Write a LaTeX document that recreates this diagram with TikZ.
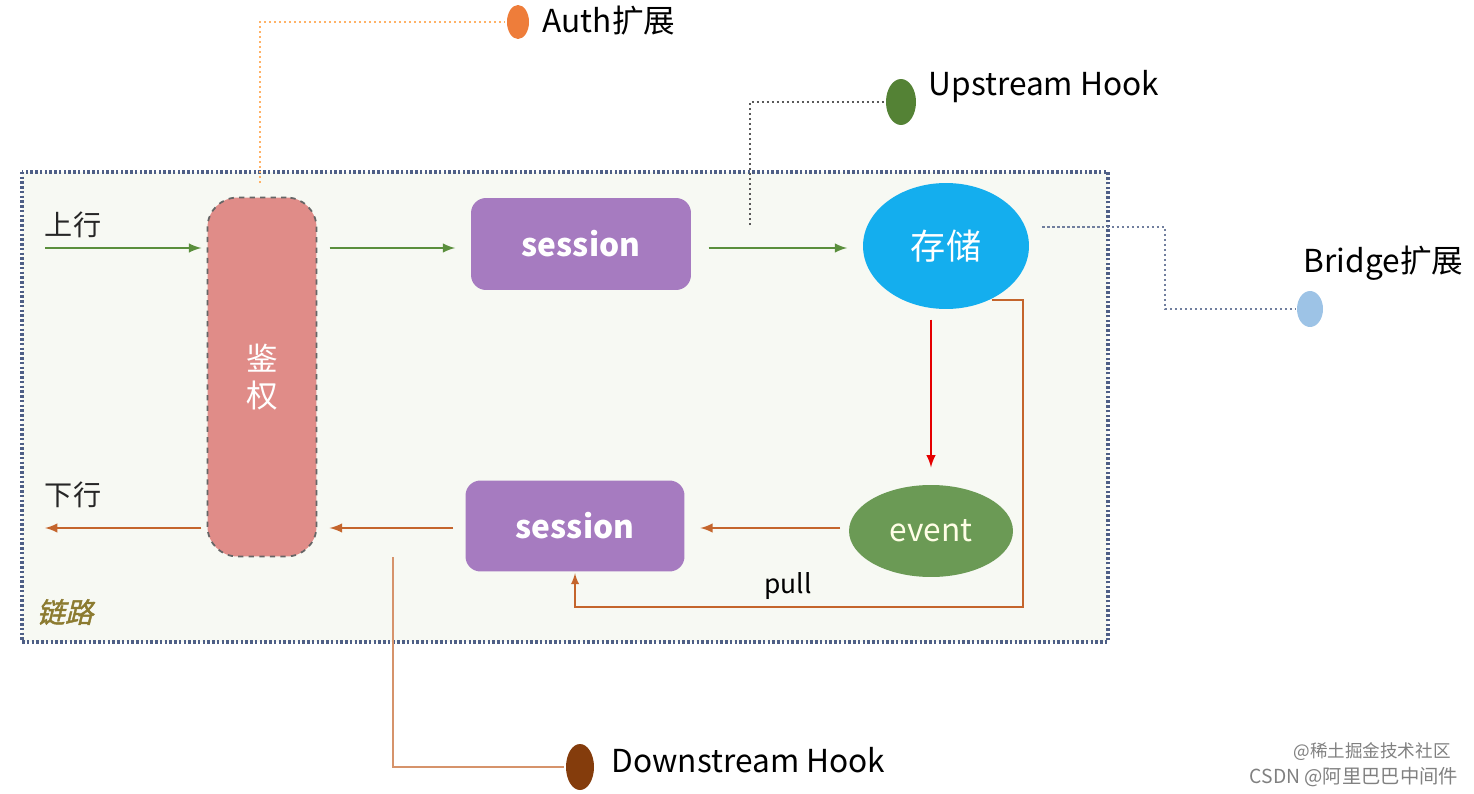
\documentclass[tikz,border=0pt]{standalone}
\usepackage{fontspec}
\setmainfont{Noto Sans CJK SC}
\newfontfamily\cjkslant[FakeSlant=0.25,FakeBold=1.5]{Noto Sans CJK SC}
\usetikzlibrary{shapes.geometric}
\definecolor{authred}{HTML}{E08C88}
\definecolor{sesspurple}{HTML}{A67BC0}
\definecolor{storeblue}{HTML}{14AEEE}
\definecolor{eventgreen}{HTML}{6B9A55}
\definecolor{upgreen}{HTML}{5A8F3C}
\definecolor{downbrown}{HTML}{C4652C}
\definecolor{frameblue}{HTML}{4E5F86}
\definecolor{linkbg}{HTML}{F7F9F3}
\definecolor{linkolive}{HTML}{8C7B30}
\begin{document}
\begin{tikzpicture}[x=0.02cm, y=-0.02cm, line width=0.7mm,
        uparr/.style={-latex, upgreen, line width=0.5mm},
        downarr/.style={-latex, downbrown, line width=0.5mm},
        hookline/.style={line width=0.55mm, dash pattern=on 0.5mm off 0.5mm},
        hooklabel/.style={anchor=west, inner sep=0pt, font=\fontsize{18pt}{20pt}\selectfont},
        hookdot/.style={ellipse, inner sep=0pt}]
    \useasboundingbox (0,0) rectangle (1474,794);
    % 链路 frame
    \draw[frameblue, fill=linkbg, dash pattern=on 0.5mm off 0.45mm] (22,172) rectangle (1108,642);
    \node at (65,612)[linkolive, font=\cjkslant\fontsize{16pt}{18pt}\selectfont]{链路};
    % main boxes
    \node (auth) at (262,377)[rectangle, rounded corners=6mm, fill=authred, draw=gray!80!black, dashed, line width=0.35mm,
        minimum width=2.18cm, minimum height=7.18cm, text=white, align=center, font=\fontsize{18pt}{21pt}\selectfont]{鉴\\权};
    \node (sessA) at (581,244)[rectangle, rounded corners=3mm, fill=sesspurple, minimum width=4.4cm, minimum height=1.84cm,
        text=white, font=\bfseries\fontsize{18pt}{20pt}\selectfont]{session};
    \node (store) at (946,246)[ellipse, fill=storeblue, inner sep=0pt, minimum width=3.32cm, minimum height=2.52cm,
        text=white, font=\fontsize{20pt}{22pt}\selectfont]{存储};
    \node (event) at (931,531)[ellipse, fill=eventgreen, inner sep=0pt, minimum width=3.28cm, minimum height=1.84cm,
        text=white!90!yellow, font=\fontsize{18pt}{20pt}\selectfont]{event};
    \node (sessB) at (575,526)[rectangle, rounded corners=3mm, fill=sesspurple, minimum width=4.38cm, minimum height=1.82cm,
        text=white, font=\bfseries\fontsize{18pt}{20pt}\selectfont]{session};
    % 上行 / 下行
    \node at (73,225)[font=\fontsize{16pt}{18pt}\selectfont, text=black!85]{上行};
    \node at (73,495)[font=\fontsize{16pt}{18pt}\selectfont, text=black!85]{下行};
    \coordinate (upin) at (45,248);
    \coordinate (downout) at (45,528);
    \draw[uparr, shorten >=3pt] (upin) -- (upin -| auth.west);
    \draw[uparr, shorten <=7pt, shorten >=8pt] (auth.east |- 0,248) -- (sessA.west |- 0,248);
    \draw[uparr, shorten <=9pt, shorten >=8pt] (sessA.east |- 0,248) -- (store.west |- 0,248);
    \draw[-latex, red!90!black, line width=0.5mm, shorten <=5pt, shorten >=9pt] (store.south -| event.north) -- (event.north);
    \draw[downarr, shorten <=4pt, shorten >=8pt] (event.west |- 0,528) -- (sessB.east |- 0,528);
    \draw[downarr, shorten <=6pt, shorten >=7pt] (sessB.west |- 0,528) -- (auth.east |- 0,528);
    \draw[downarr, shorten <=3pt] (auth.west |- downout) -- (downout);
    % pull
    \coordinate (pullc) at (1023,607);
    \draw[downarr, line width=0.4mm] (store.-50) -| (pullc) -| (sessB.south);
    \node at (788,586)[font=\fontsize{15pt}{17pt}\selectfont]{pull};
    % hooks
    \foreach \d/\x/\y/\w/\h/\c in {authdot/518/22/0.44/0.68/EE7D3A, updot/901/102/0.6/0.92/548235,
            bridgedot/1310/309/0.52/0.72/9DC3E6, downdot/580/767/0.56/0.92/843C0C}{
        \definecolor{dotc}{HTML}{\c}
        \node (\d) at (\x,\y)[hookdot, fill=dotc, minimum width=\w cm, minimum height=\h cm]{};
    }
    \node at (541,21)[hooklabel]{Auth扩展};
    \node at (927,87)[hooklabel]{Upstream Hook};
    \node at (1302,263)[hooklabel]{Bridge扩展};
    \node at (610,760)[hooklabel]{Downstream Hook};
    \coordinate (authtap) at (260,183);
    \coordinate (uptap) at (750,225);
    \coordinate (bridgetap) at (1042,227);
    \coordinate (downtap) at (393,557);
    \draw[hookline, orange!60] (authtap) |- (authdot.west);
    \draw[hookline, gray!70!black] (uptap) |- (updot.west);
    \draw[hookline, frameblue!80] (bridgetap) -- ++(123,0) |- (bridgedot.west);
    \draw[line width=0.3mm, downbrown!70] (downtap) |- (downdot.west);
    % watermark
    \node at (1372,752)[font=\fontsize{10pt}{11pt}\selectfont, text=gray]{@稀土掘金技术社区};
    \node at (1354,777)[font=\fontsize{11pt}{12pt}\selectfont, text=gray]{CSDN @阿里巴巴中间件};
\end{tikzpicture}
\end{document}
